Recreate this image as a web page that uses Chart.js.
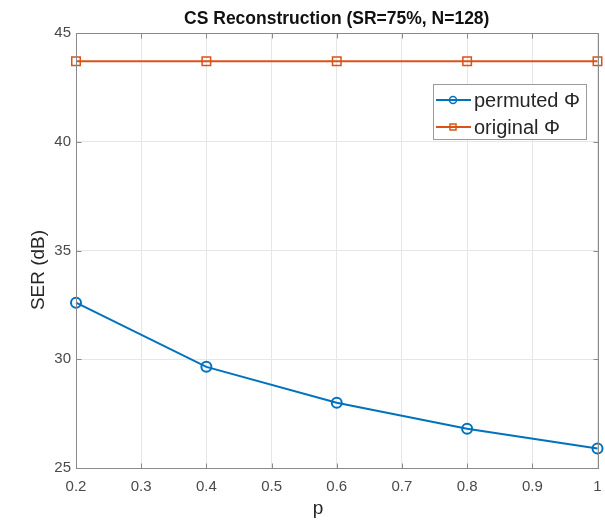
<!DOCTYPE html>
<html>
<head>
<meta charset="utf-8">
<script src="https://cdn.jsdelivr.net/npm/chart.js@4"></script>
<style>
  html, body { margin: 0; padding: 0; background: #fff; }
  #wrap { width: 605px; height: 522px; }
</style>
</head>
<body>
<div id="wrap"><canvas id="chart" width="605" height="522"></canvas></div>
<script>
// data
const pValues = [0.2, 0.4, 0.6, 0.8, 1.0];
const permutedSER = [32.6, 29.65, 28.0, 26.8, 25.9];
const originalSER = [43.7, 43.7, 43.7, 43.7, 43.7];
const seriesNames = ["permuted \u03A6", "original \u03A6"];
const xTicks = [0.2, 0.3, 0.4, 0.5, 0.6, 0.7, 0.8, 0.9, 1];
const yTicks = [25, 30, 35, 40, 45];
const xLabel = "p";
const yLabel = "SER (dB)";

const FONT = "'Liberation Sans', Arial, Helvetica, sans-serif";
const BLUE = "#0072BD";
const ORANGE = "#D95319";
const AXIS = "#8a8a8a";
const TEXT = "#262626";

// box, inner ticks, axis labels and legend - matlab look
const matlabLook = {
  id: 'matlabLook',
  afterDatasetsDraw(chart) {
    const ctx = chart.ctx;
    const a = chart.chartArea;
    const sx = chart.scales.x, sy = chart.scales.y;
    const L = Math.round(a.left) + 0.5, R = Math.round(a.right) + 0.5;
    const T = Math.round(a.top) + 0.5, B = Math.round(a.bottom) + 0.5;
    ctx.save();
    ctx.strokeStyle = AXIS;
    ctx.lineWidth = 1;
    ctx.strokeRect(L, T, R - L, B - T);

    // little ticks pointing inwards
    ctx.beginPath();
    xTicks.forEach(v => {
      const x = Math.round(sx.getPixelForValue(v)) + 0.5;
      ctx.moveTo(x, B); ctx.lineTo(x, B - 5);
      ctx.moveTo(x, T); ctx.lineTo(x, T + 5);
    });
    yTicks.forEach(v => {
      const y = Math.round(sy.getPixelForValue(v)) + 0.5;
      ctx.moveTo(L, y); ctx.lineTo(L + 5, y);
      ctx.moveTo(R, y); ctx.lineTo(R - 5, y);
    });
    ctx.stroke();

    // axis labels
    ctx.fillStyle = TEXT;
    ctx.font = "19px " + FONT;
    ctx.textAlign = "center";
    ctx.textBaseline = "middle";
    ctx.fillText(xLabel, 318, 509);
    ctx.save();
    ctx.translate(39, 270);
    ctx.rotate(-Math.PI / 2);
    ctx.fillText(yLabel, 0, 0);
    ctx.restore();

    // legend
    const lx = 433, ly = 84, lw = 153, lh = 55;
    ctx.fillStyle = "#fff";
    ctx.fillRect(lx, ly, lw, lh);
    ctx.strokeStyle = "#9a9a9a";
    ctx.lineWidth = 1;
    ctx.strokeRect(lx + 0.5, ly + 0.5, lw, lh);
    chart.data.datasets.forEach((ds, i) => {
      const y = ly + 16 + i * 27;
      ctx.strokeStyle = ds.borderColor;
      ctx.lineWidth = 2;
      ctx.beginPath();
      ctx.moveTo(lx + 3, y);
      ctx.lineTo(lx + 38, y);
      ctx.stroke();
      ctx.lineWidth = 1.5;
      ctx.beginPath();
      if (ds.pointStyle === 'rect') {
        ctx.rect(lx + 17, y - 3, 6, 6);
      } else {
        ctx.arc(lx + 20, y, 3.5, 0, Math.PI * 2);
      }
      ctx.stroke();
      ctx.fillStyle = TEXT;
      ctx.font = "20px " + FONT;
      ctx.textAlign = "left";
      ctx.textBaseline = "middle";
      ctx.fillText(ds.label, lx + 41, y + 1);
    });
    ctx.restore();
  }
};

const toPoints = (ys) => pValues.map((x, i) => ({ x: x, y: ys[i] }));

new Chart(document.getElementById("chart"), {
  type: 'line',
  data: {
    datasets: [
      {
        label: seriesNames[0],
        data: toPoints(permutedSER),
        borderColor: BLUE,
        backgroundColor: 'rgba(0,0,0,0)',
        borderWidth: 2,
        pointStyle: 'circle',
        pointRadius: 5,
        pointBorderWidth: 2,
        pointBorderColor: BLUE,
        pointBackgroundColor: 'rgba(0,0,0,0)',
        tension: 0,
        clip: false
      },
      {
        label: seriesNames[1],
        data: toPoints(originalSER),
        borderColor: ORANGE,
        backgroundColor: 'rgba(0,0,0,0)',
        borderWidth: 2,
        pointStyle: 'rect',
        pointRadius: 6,
        pointBorderWidth: 1.5,
        pointBorderColor: ORANGE,
        pointBackgroundColor: 'rgba(0,0,0,0)',
        tension: 0,
        clip: false
      }
    ]
  },
  options: {
    responsive: false,
    animation: false,
    layout: { padding: { top: 0, right: 0, bottom: 0, left: 0 } },
    plugins: {
      legend: { display: false },
      tooltip: { enabled: false },
      title: {
        display: true,
        fullSize: false,
        text: "CS Reconstruction (SR=75%, N=128)",
        color: "#111",
        font: { family: FONT, size: 17.5, weight: 'bold', lineHeight: 1.2 },
        padding: { top: 9, bottom: 3 }
      }
    },
    scales: {
      x: {
        type: 'linear',
        min: 0.2,
        max: 1,
        afterBuildTicks(scale) { scale.ticks = xTicks.map(v => ({ value: v })); },
        afterFit(scale) { scale.height = 54; scale.paddingRight = 7; },
        ticks: {
          color: "#4a4a4a",
          font: { family: FONT, size: 15 },
          padding: 10,
          maxRotation: 0,
          callback: v => String(v)
        },
        grid: { color: "#e6e6e6", drawTicks: false },
        border: { display: false }
      },
      y: {
        min: 25,
        max: 45,
        afterBuildTicks(scale) { scale.ticks = yTicks.map(v => ({ value: v })); },
        afterFit(scale) { scale.width = 76; },
        ticks: {
          color: "#4a4a4a",
          font: { family: FONT, size: 15 },
          padding: 5
        },
        grid: { color: "#e6e6e6", drawTicks: false },
        border: { display: false }
      }
    }
  },
  plugins: [matlabLook]
});
</script>
</body>
</html>
